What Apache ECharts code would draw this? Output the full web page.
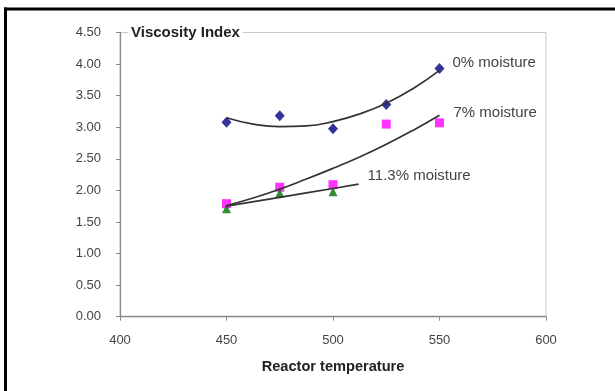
<!DOCTYPE html>
<html>
<head>
<meta charset="utf-8">
<script src="https://cdn.jsdelivr.net/npm/echarts@6/dist/echarts.min.js"></script>
<style>
html,body{margin:0;padding:0;background:#fff;}
#chart{width:615px;height:391px;}
</style>
</head>
<body>
<div id="chart"></div>
<script>
// ---- data ----
const temps = [450, 475, 500, 525, 550];
const visc0 = [3.08, 3.18, 2.975, 3.36, 3.93];
const visc7 = [1.79, 2.05, 2.09, 3.05, 3.07];
const temps113 = [450, 475, 500];
const visc113 = [1.71, 1.96, 1.98];
// trend curves
const trendX = [450, 462.5, 475, 487.5, 500, 512.5, 525, 537.5, 550];
const trend0 = [3.15, 3.05, 3.01, 3.02, 3.09, 3.21, 3.38, 3.61, 3.90];
const trend7 = [1.76, 1.88, 2.02, 2.18, 2.35, 2.53, 2.73, 2.95, 3.19];
const trend113X = [450, 475, 500, 512];
const trend113 = [1.75, 1.89, 2.03, 2.10];
const seriesNames = ['0% moisture', '7% moisture', '11.3% moisture'];
const xTitle = 'Reactor temperature';
const yTitle = 'Viscosity Index';

const pairs = (xs, ys) => xs.map((x, i) => [x, ys[i]]);
const FONT = '"Liberation Sans", Arial, sans-serif';

const chart = echarts.init(document.getElementById('chart'), null, {renderer: 'canvas'});

function trend(name, xs, ys, off) {
  return {
    name: name, type: 'line', smooth: 0.5, showSymbol: false, z: 5,
    data: pairs(xs, ys),
    lineStyle: {color: '#333', width: 1.7},
    endLabel: {
      show: true, formatter: name, offset: off,
      fontFamily: FONT, fontSize: 15, color: '#444', align: 'left', distance: 0
    },
    emphasis: {disabled: true}
  };
}

chart.setOption({
  animation: false,
  backgroundColor: '#fff',
  title: {
    text: yTitle, left: 128, top: 25, padding: [1, 3],
    backgroundColor: '#fff',
    textStyle: {fontFamily: FONT, fontSize: 15, fontWeight: 'bold', color: '#222', lineHeight: 14}
  },
  grid: {left: 120, top: 32.5, right: 69, bottom: 74.3, show: true, borderColor: '#c8c8c8', borderWidth: 1, backgroundColor: 'transparent'},
  xAxis: {
    type: 'value', min: 400, max: 600, interval: 50,
    name: xTitle, nameLocation: 'middle', nameGap: 43,
    nameTextStyle: {fontFamily: FONT, fontSize: 14.6, fontWeight: 'bold', color: '#222'},
    axisLine: {show: true, lineStyle: {color: '#8a8a8a', width: 1.3}},
    axisTick: {show: true, length: 4, lineStyle: {color: '#8a8a8a'}},
    splitLine: {show: false},
    axisLabel: {margin: 17, fontFamily: FONT, fontSize: 13, color: '#444'}
  },
  yAxis: {
    type: 'value', min: 0, max: 4.5, interval: 0.5,
    axisLine: {show: true, lineStyle: {color: '#8a8a8a', width: 1.3}},
    axisTick: {show: true, length: 4, lineStyle: {color: '#8a8a8a'}},
    splitLine: {show: false},
    axisLabel: {margin: 19, fontFamily: FONT, fontSize: 13, color: '#444', formatter: v => v.toFixed(2)}
  },
  graphic: [
    {type: 'rect', shape: {x: 4, y: 7.5, width: 611, height: 3}, style: {fill: '#000'}, z: 100},
    {type: 'rect', shape: {x: 4, y: 7.5, width: 3, height: 384}, style: {fill: '#000'}, z: 100}
  ],
  series: [
    {name: seriesNames[0], type: 'scatter', data: pairs(temps, visc0), symbol: 'diamond', symbolSize: [10, 11], itemStyle: {color: '#000080'}, z: 3},
    {name: seriesNames[1], type: 'scatter', data: pairs(temps, visc7), symbol: 'rect', symbolSize: 9, itemStyle: {color: '#ff00ff'}, z: 3},
    {name: seriesNames[2], type: 'scatter', data: pairs(temps113, visc113), symbol: 'triangle', symbolSize: 9, itemStyle: {color: '#007000'}, z: 4},
    trend(seriesNames[0], trendX, trend0, [13, -8]),
    trend(seriesNames[1], trendX, trend7, [14, -2]),
    trend(seriesNames[2], trend113X, trend113, [9, -8])
  ]
});
</script>
</body>
</html>
